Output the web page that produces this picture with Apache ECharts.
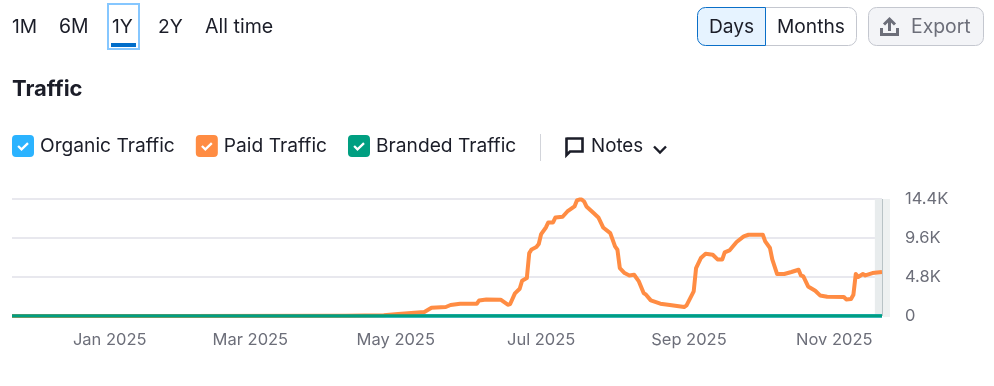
<!DOCTYPE html>
<html>
<head>
<meta charset="utf-8">
<style>html,body{margin:0;padding:0;background:#fff}#c{width:994px;height:386px}</style>
<script src="https://cdn.jsdelivr.net/npm/echarts@6/dist/echarts.min.js"></script>
</head>
<body>
<div id="c"></div>
<script>
const rangeStart = '2024-11-21';
const rangeEnd = '2025-11-21';
const partialStart = '2025-11-18';
const seriesNames = ['Organic Traffic', 'Paid Traffic', 'Branded Traffic'];
const monthTicks = ['2025-01-01', '2025-03-01', '2025-05-01', '2025-07-01', '2025-09-01', '2025-11-01'];
const monthLabels = ['Jan 2025', 'Mar 2025', 'May 2025', 'Jul 2025', 'Sep 2025', 'Nov 2025'];
const valueTicks = [0, 4800, 9600, 14400];
const valueLabels = ['0', '4.8K', '9.6K', '14.4K'];
const flatDates = ['2024-11-21', '2025-01-01', '2025-03-01', '2025-05-01', '2025-07-01', '2025-09-01', '2025-11-01', '2025-11-21'];
const organicValues = [0, 0, 0, 0, 0, 0, 0, 0];
const brandedValues = [0, 0, 0, 0, 0, 0, 0, 0];
const paidDates = ['2024-11-21', '2025-02-01', '2025-04-10', '2025-04-26', '2025-05-02', '2025-05-13', '2025-05-16', '2025-05-22', '2025-05-24', '2025-05-28',
  '2025-06-04', '2025-06-05', '2025-06-08', '2025-06-14', '2025-06-17', '2025-06-18', '2025-06-20', '2025-06-22', '2025-06-23', '2025-06-25',
  '2025-06-26', '2025-06-27', '2025-06-29', '2025-06-30', '2025-07-01', '2025-07-03', '2025-07-04', '2025-07-06', '2025-07-07', '2025-07-10',
  '2025-07-12', '2025-07-15', '2025-07-16', '2025-07-17', '2025-07-18', '2025-07-19', '2025-07-20', '2025-07-23', '2025-07-25', '2025-07-27', '2025-07-30', '2025-08-01',
  '2025-08-02', '2025-08-03', '2025-08-05', '2025-08-07', '2025-08-09', '2025-08-11', '2025-08-13', '2025-08-14', '2025-08-16', '2025-08-20',
  '2025-08-24', '2025-08-30', '2025-08-31', '2025-09-03', '2025-09-04', '2025-09-06', '2025-09-08', '2025-09-11', '2025-09-13', '2025-09-15',
  '2025-09-16', '2025-09-18', '2025-09-21', '2025-09-24', '2025-09-26', '2025-10-02', '2025-10-03', '2025-10-05', '2025-10-06', '2025-10-08',
  '2025-10-11', '2025-10-14', '2025-10-17', '2025-10-18', '2025-10-19', '2025-10-21', '2025-10-24', '2025-10-26', '2025-10-29', '2025-11-05',
  '2025-11-06', '2025-11-08', '2025-11-09', '2025-11-10', '2025-11-11', '2025-11-13', '2025-11-14', '2025-11-17', '2025-11-21'];
const paidValues = [0, 0, 20, 86, 246, 492, 1020, 1107, 1353, 1513,
  1513, 1919, 2042, 2005, 1390, 1476, 2780, 3358, 4342, 4674,
  7749, 8192, 8487, 8856, 10086, 10898, 11513, 11513, 12128, 12214,
  12866, 13481, 14219, 14330, 14342, 14100, 13481, 12669, 12128, 10898, 10209, 8561,
  8155, 5904, 5289, 4994, 5080, 4256, 2829, 2620, 1919, 1513,
  1353, 1107, 1304, 3026, 5904, 7134, 7663, 7540, 6962, 6962,
  7823, 8069, 9102, 9791, 10000, 10000, 9176, 8364, 6925, 5166,
  5166, 5412, 5695, 4994, 4871, 3641, 3112, 2534, 2374, 2337,
  2042, 2091, 2620, 5166, 4797, 5166, 4994, 5289, 5412];

const FONT = 'Inter';
const INK = '#1b1d28';
const MUTED = '#6c6e79';
const ts = s => new Date(s + 'T00:00:00Z').getTime();
const zip = (d, v) => d.map((x, i) => [ts(x), v[i]]);
const checkIcon = 'path://M4 0H18A4 4 0 0 1 22 4V18A4 4 0 0 1 18 22H4A4 4 0 0 1 0 18V4A4 4 0 0 1 4 0Z' +
  'M6.9 10.2L5.3 11.8L9.5 16L16.8 8.9L15.2 7.3L9.5 12.8Z';
const txt = (x, y, text, size, fill, weight) => ({
  type: 'text', x, y, silent: true,
  style: { text, font: (weight || 400) + ' ' + size + 'px ' + FONT, fill, textVerticalAlign: 'middle', textAlign: 'left' }
});
const rr = (x, y, w, h, r, fill, stroke, lw) => ({
  type: 'rect', silent: true, shape: { x, y, width: w, height: h, r },
  style: { fill, stroke, lineWidth: lw || 1 }
});
const pl = (points, stroke, w) => ({ type: 'polyline', silent: true, shape: { points }, style: { stroke, lineWidth: w, fill: 'none', lineJoin: 'miter' } });
const graphics = [
  txt(12, 27, '1M', 19.2, INK), txt(59, 27, '6M', 19.4, INK), txt(112, 27, '1Y', 19.2, INK),
  txt(158, 27, '2Y', 19.2, INK), txt(205, 27, 'All time', 19.6, INK),
  rr(108, 4, 31, 45, 0, 'none', '#86c7ff', 2),
  rr(111, 43, 25, 4, 0, '#006dca', null, 0),
  txt(12, 89, 'Traffic', 22, INK, 700),
  rr(765.5, 7.5, 91, 38, [0, 8, 8, 0], '#fff', '#c4c7cf'),
  rr(697.5, 7.5, 68, 38, [8, 0, 0, 8], '#e6f3ff', '#0a6fc8'),
  txt(709, 27.5, 'Days', 19.2, INK), txt(777, 27.5, 'Months', 19.2, INK),
  rr(868.5, 7.5, 115, 38, 8, '#f3f4f7', '#c4c7cf'),
  pl([[881.5, 28], [881.5, 34.5], [897.5, 34.5], [897.5, 28]], MUTED, 3),
  pl([[889.5, 31], [889.5, 19]], MUTED, 3),
  pl([[884, 24.5], [889.5, 19], [895, 24.5]], MUTED, 3),
  txt(911, 27.5, 'Export', 19.4, MUTED),
  { type: 'line', silent: true, shape: { x1: 540.5, y1: 134, x2: 540.5, y2: 161 }, style: { stroke: '#d2d4da', lineWidth: 1 } },
  pl([[566.5, 138.5], [582.5, 138.5], [582.5, 151.5], [570, 151.5], [566.5, 155], [566.5, 137.5]], INK, 2.6),
  txt(591, 146.5, 'Notes', 18.8, INK),
  pl([[654, 146.5], [660, 152.5], [666, 146.5]], INK, 2.4),
  { type: 'rect', silent: true, z: -1, shape: { x: 883, y: 199, width: 7, height: 118 }, style: { fill: '#eef1f1' } },
  { type: 'line', silent: true, z: 10, shape: { x1: 882.5, y1: 199, x2: 882.5, y2: 316 }, style: { stroke: '#b9c3c6', lineWidth: 1 } }
];
const chart = echarts.init(document.getElementById('c'));
const lineBase = { type: 'line', symbol: 'none', showSymbol: false, smooth: false, animation: false, silent: true };
chart.setOption({
  animation: false,
  textStyle: { fontFamily: FONT },
  grid: { left: 12, right: 112, top: 199, bottom: 70 },
  legend: {
    show: true, left: 12, top: 135, padding: 0, itemWidth: 22, itemHeight: 22, itemGap: 21, icon: checkIcon,
    selectedMode: false, data: seriesNames,
    textStyle: { fontFamily: FONT, fontSize: 19.2, color: INK, padding: [4, 0, 0, 1] }
  },
  xAxis: {
    type: 'value', min: ts(rangeStart), max: ts(rangeEnd),
    axisLine: { show: false }, axisTick: { show: false }, splitLine: { show: false },
    axisLabel: {
      show: true, color: MUTED, fontFamily: FONT, fontSize: 16.5, margin: 16, hideOverlap: false,
      customValues: monthTicks.map(ts),
      formatter: v => monthLabels[monthTicks.map(ts).indexOf(v)] || ''
    }
  },
  yAxis: {
    type: 'value', position: 'right', min: 0, max: 14400, interval: 4800,
    axisLine: { show: false }, axisTick: { show: false },
    splitLine: { show: true, lineStyle: { color: '#e0e1e9', width: 1.5 } },
    axisLabel: { color: MUTED, fontFamily: FONT, fontSize: 16.5, margin: 23, formatter: v => valueLabels[valueTicks.indexOf(v)] }
  },
  series: [
    Object.assign({}, lineBase, { name: seriesNames[0], color: '#2bb3ff', itemStyle: { color: '#2bb3ff' }, lineStyle: { color: '#2bb3ff', width: 3.5 }, z: 2,
      data: zip(flatDates, organicValues) }),
    Object.assign({}, lineBase, { name: seriesNames[1], color: '#ff8c43', itemStyle: { color: '#ff8c43' }, lineStyle: { color: '#ff8c43', width: 4, join: 'round', cap: 'butt' }, z: 3,
      data: zip(paidDates, paidValues),
      markArea: { silent: true, z: 1, itemStyle: { color: '#e8eced' }, label: { show: false }, data: [[{ xAxis: ts(partialStart) }, { xAxis: ts(rangeEnd) }]] } }),
    Object.assign({}, lineBase, { name: seriesNames[2], color: '#009f81', itemStyle: { color: '#009f81' }, lineStyle: { color: '#009f81', width: 3.5 }, z: 4,
      data: zip(flatDates, brandedValues) })
  ],
  graphic: graphics
});
</script>
</body>
</html>
